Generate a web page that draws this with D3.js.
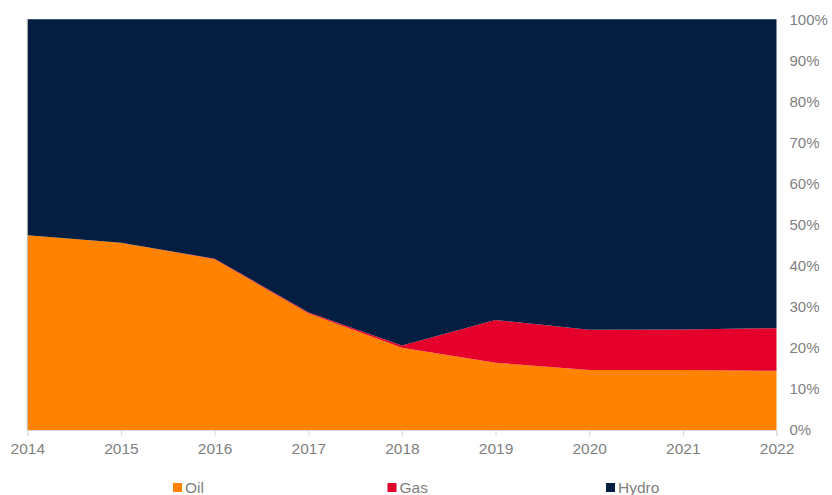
<!DOCTYPE html>
<html><head><meta charset="utf-8">
<script src="https://cdn.jsdelivr.net/npm/d3@7"></script>
<style>body{margin:0;background:#fff}svg{display:block}</style>
</head><body><svg id="c" width="832" height="495"></svg>
<script>
const years = [2014, 2015, 2016, 2017, 2018, 2019, 2020, 2021, 2022];
const oil   = [47.4, 45.6, 41.6, 28.4, 20.0, 16.4, 14.6, 14.6, 14.4];
const gas   = [0.0, 0.0, 0.1, 0.3, 0.6, 10.4, 9.8, 9.9, 10.4];
const hydro = [52.6, 54.4, 58.3, 71.3, 79.4, 73.2, 75.6, 75.5, 75.2];
const seriesNames = ["Oil", "Gas", "Hydro"];
const seriesColors = ["#FF8200", "#E4002B", "#041E42"];
const yTicks = [0,10,20,30,40,50,60,70,80,90,100];

const svg = d3.select("#c");
const x = d3.scaleLinear().domain([2014, 2022]).range([27.3, 776.5]);
const y = d3.scaleLinear().domain([0, 100]).range([430, 19.3]);

const rows = years.map((yr,i)=>({year:yr, Oil:oil[i], Gas:gas[i], Hydro:hydro[i]}));
const stack = d3.stack().keys(seriesNames).offset(d3.stackOffsetExpand);
const layers = stack(rows);
const area = d3.area().x(d=>x(d.data.year)).y0(d=>y(d[0]*100)).y1(d=>y(d[1]*100));

svg.append("g").selectAll("path").data(layers).join("path")
  .attr("d", area).attr("fill",(d,i)=>seriesColors[i]);

const font = "'Liberation Sans', Arial, sans-serif";
// x axis
const xAxis = d3.axisBottom(x).tickValues(years).tickFormat(d3.format("d")).tickSize(6).tickPadding(7);
const gx = svg.append("g").attr("transform","translate(0,430)").call(xAxis);
gx.select(".domain").attr("stroke","#d9d9d9");
gx.selectAll(".tick line").attr("stroke","#d9d9d9");
gx.selectAll("text").attr("fill","#7f7f7f").style("font-family",font).style("font-size","15.5px");

// left vertical axis line
svg.append("line").attr("x1",x(2014)).attr("x2",x(2014)).attr("y1",y(100)).attr("y2",y(0))
  .attr("stroke","#bfbfbf").attr("stroke-width",1);

// right y axis labels
const yAxis = d3.axisRight(y).tickValues(yTicks).tickFormat(d=>d+"%").tickSize(0).tickPadding(13);
const gy = svg.append("g").attr("transform",`translate(${x(2022)},0)`).call(yAxis);
gy.select(".domain").remove();
gy.selectAll("text").attr("fill","#7f7f7f").style("font-family",font).style("font-size","15px");

// legend
const legendX = [173, 387.5, 606];
const lg = svg.append("g").selectAll("g").data(seriesNames).join("g")
  .attr("transform",(d,i)=>`translate(${legendX[i]},483)`);
lg.append("rect").attr("width",9).attr("height",9).attr("fill",(d,i)=>seriesColors[i]);
lg.append("text").attr("x",12).attr("y",9.5).text(d=>d)
  .attr("fill","#7f7f7f").style("font-family",font).style("font-size","15.5px");
</script></body></html>
